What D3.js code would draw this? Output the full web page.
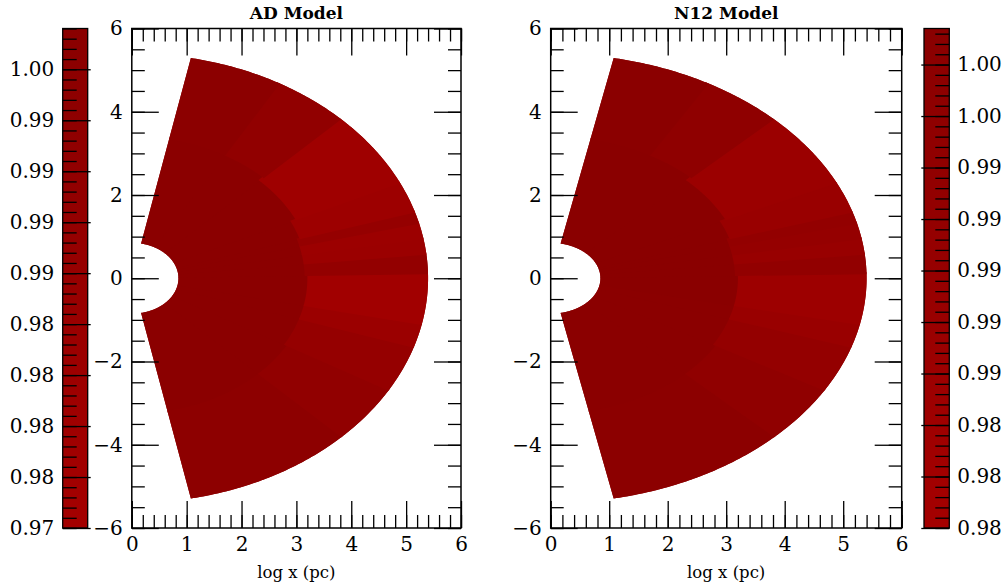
<!DOCTYPE html>
<html>
<head>
<meta charset="utf-8">
<script src="https://cdn.jsdelivr.net/npm/d3@7"></script>
<style>
  body { margin: 0; background: #fff; }
  svg text { font-family: "DejaVu Serif", serif; }
</style>
</head>
<body>
<script>
// data
const xTicks = [0, 1, 2, 3, 4, 5, 6];
const yTicks = [-6, -4, -2, 0, 2, 4, 6];

// wedge grid (polar, degrees / log radius)
const rInner = 0.85;
const rOuter = 5.4;
const thetaEdges = [-78.5, -45, -30, -18, -12, 1, 6, 10, 14, 17, 25, 45, 60, 78.5];
// radius where the outer zone starts, one per angular bin
const rBreak = [3.25, 3.25, 3.2, 3.2, 3.2, 3.15, 3.15, 3.15, 3.15, 3.2, 3.3, 3.4, 3.4];

const adInner = [0.9985, 0.9985, 0.9985, 0.9985, 0.9988, 0.999, 0.999, 0.999, 0.999, 0.999, 0.999, 0.999, 0.999];
const adOuter = [0.9966, 0.9926, 0.9887, 0.9838, 0.9779, 0.9907, 0.9838, 0.9828, 0.9887, 0.9819, 0.9799, 0.9926, 0.9975];

const n12Inner = [0.9990, 0.9990, 0.9990, 0.9990, 0.9991, 0.9992, 0.9992, 0.9992, 0.9992, 0.9992, 0.9992, 0.9992, 0.9992];
const n12Outer = [0.9978, 0.9947, 0.9916, 0.9885, 0.9854, 0.9932, 0.9893, 0.9909, 0.9924, 0.9885, 0.9870, 0.9955, 0.9986];

// colorbars
const adRange = [0.975, 0.9995];
const adCbarTicks = [0.975, 0.9775, 0.98, 0.9825, 0.985, 0.9875, 0.99, 0.9925, 0.995, 0.9975];
const adCbarLabels = ["0.97", "0.98", "0.98", "0.98", "0.98", "0.99", "0.99", "0.99", "0.99", "1.00"];

const n12Range = [0.98, 0.9994];
const n12CbarTicks = [0.98, 0.982, 0.984, 0.986, 0.988, 0.99, 0.992, 0.994, 0.996, 0.998];
const n12CbarLabels = ["0.98", "0.98", "0.98", "0.99", "0.99", "0.99", "0.99", "0.99", "1.00", "1.00"];

const lowColor = "#a40000";
const highColor = "#8a0000";

// layout
const width = 1003;
const height = 587;
const yTop = 28.5;
const yBottom = 528;
const fontSize = 20;

const panels = [
  {
    title: "AD Model", x0: 131.8, x1: 461, inner: adInner, outer: adOuter,
    cbar: { x: 62.7, w: 25, side: "left", range: adRange, ticks: adCbarTicks, labels: adCbarLabels, minorStep: 0.0005 }
  },
  {
    title: "N12 Model", x0: 550.7, x1: 901.7, inner: n12Inner, outer: n12Outer,
    cbar: { x: 924, w: 25.3, side: "right", range: n12Range, ticks: n12CbarTicks, labels: n12CbarLabels, minorStep: 0.0004 }
  }
];

const svg = d3.select("body").append("svg")
  .attr("width", width)
  .attr("height", height);

const styleAxis = (g) => {
  g.select(".domain").remove();
  g.attr("font-family", "DejaVu Serif").attr("font-size", fontSize);
  g.selectAll("line").attr("stroke", "#000").attr("stroke-width", 1.3);
  g.selectAll("text").attr("fill", "#000");
};

panels.forEach((p, pi) => {
  const x = d3.scaleLinear().domain([0, 6]).range([p.x0, p.x1]);
  const y = d3.scaleLinear().domain([-6, 6]).range([yBottom, yTop]);
  const color = d3.scaleLinear().domain(p.cbar.range).range([lowColor, highColor]).clamp(true);

  const line = d3.line().x((d) => x(d[0])).y((d) => y(d[1]));
  const cellPath = (t0, t1, r0, r1) => {
    const n = Math.max(2, Math.ceil(Math.abs(t1 - t0) * 2));
    const pts = [];
    for (let i = 0; i <= n; i++) {
      const t = ((t0 + (t1 - t0) * i / n) * Math.PI) / 180;
      pts.push([r1 * Math.cos(t), r1 * Math.sin(t)]);
    }
    for (let i = n; i >= 0; i--) {
      const t = ((t0 + (t1 - t0) * i / n) * Math.PI) / 180;
      pts.push([r0 * Math.cos(t), r0 * Math.sin(t)]);
    }
    return line(pts) + "Z";
  };

  // cells overlap slightly into the next one (drawn later) so no seams show
  const last = thetaEdges.length - 2;
  const innerCells = [];
  const outerCells = [];
  thetaEdges.slice(0, -1).forEach((t0, i) => {
    const t1 = thetaEdges[i + 1] + (i < last ? 0.6 : 0);
    innerCells.push({ t0, t1, r0: rInner, r1: rBreak[i] + 0.05, v: p.inner[i] });
    outerCells.push({ t0, t1, r0: rBreak[i], r1: rOuter, v: p.outer[i] });
  });

  const wedge = svg.append("g");
  // base layer under the cells
  wedge.append("path")
    .attr("d", cellPath(thetaEdges[0], thetaEdges[thetaEdges.length - 1], rInner, rOuter))
    .attr("fill", color(d3.median(p.inner)));
  wedge.selectAll("path.inner")
    .data(innerCells)
    .enter()
    .append("path")
    .attr("class", "inner")
    .attr("d", (d) => cellPath(d.t0, d.t1, d.r0, d.r1))
    .attr("fill", (d) => color(d.v));
  wedge.selectAll("path.outer")
    .data(outerCells)
    .enter()
    .append("path")
    .attr("class", "outer")
    .attr("d", (d) => cellPath(d.t0, d.t1, d.r0, d.r1))
    .attr("fill", (d) => color(d.v));

  // ticks, all four sides, inward
  const minorX = d3.range(0, 6.001, 0.2);
  const minorY = d3.range(-6, 6.001, 0.5);
  const intFmt = d3.format("d");

  svg.append("g").attr("transform", `translate(0,${yBottom})`)
    .call(d3.axisBottom(x).tickValues(minorX).tickSize(-13).tickFormat("")).call(styleAxis);
  svg.append("g").attr("transform", `translate(0,${yBottom})`)
    .call(d3.axisBottom(x).tickValues(xTicks).tickSizeInner(-27).tickSizeOuter(0).tickPadding(8.5).tickFormat(intFmt)).call(styleAxis);
  svg.append("g").attr("transform", `translate(0,${yTop})`)
    .call(d3.axisTop(x).tickValues(minorX).tickSize(-13).tickFormat("")).call(styleAxis);
  svg.append("g").attr("transform", `translate(0,${yTop})`)
    .call(d3.axisTop(x).tickValues(xTicks).tickSize(-27).tickFormat("")).call(styleAxis);

  svg.append("g").attr("transform", `translate(${p.x0},0)`)
    .call(d3.axisLeft(y).tickValues(minorY).tickSize(-13).tickFormat("")).call(styleAxis);
  svg.append("g").attr("transform", `translate(${p.x0},0)`)
    .call(d3.axisLeft(y).tickValues(yTicks).tickSizeInner(-27).tickSizeOuter(0).tickPadding(9).tickFormat(intFmt)).call(styleAxis);
  svg.append("g").attr("transform", `translate(${p.x1},0)`)
    .call(d3.axisRight(y).tickValues(minorY).tickSize(-13).tickFormat("")).call(styleAxis);
  svg.append("g").attr("transform", `translate(${p.x1},0)`)
    .call(d3.axisRight(y).tickValues(yTicks).tickSize(-27).tickFormat("")).call(styleAxis);

  // frame
  svg.append("rect")
    .attr("x", p.x0).attr("y", yTop)
    .attr("width", p.x1 - p.x0).attr("height", yBottom - yTop)
    .attr("fill", "none").attr("stroke", "#000").attr("stroke-width", 1.5);

  // title and x label
  svg.append("text")
    .attr("x", (p.x0 + p.x1) / 2).attr("y", 19)
    .attr("text-anchor", "middle")
    .attr("font-weight", "bold").attr("font-size", 17)
    .text(p.title);
  svg.append("text")
    .attr("x", (p.x0 + p.x1) / 2).attr("y", 578)
    .attr("text-anchor", "middle")
    .attr("font-size", 16.5)
    .text("log x (pc)");

  // colorbar
  const c = p.cbar;
  const cy = d3.scaleLinear().domain(c.range).range([yBottom, yTop]);
  const gradId = "grad" + pi;
  const grad = svg.append("defs").append("linearGradient")
    .attr("id", gradId)
    .attr("x1", 0).attr("y1", 1).attr("x2", 0).attr("y2", 0);
  grad.selectAll("stop")
    .data(c.range)
    .enter()
    .append("stop")
    .attr("offset", (d, i) => i)
    .attr("stop-color", (d) => color(d));

  svg.append("rect")
    .attr("x", c.x).attr("y", yTop)
    .attr("width", c.w).attr("height", yBottom - yTop)
    .attr("fill", `url(#${gradId})`);

  const minorC = d3.range(c.range[0], c.range[1] + 1e-9, c.minorStep);
  if (c.side === "left") {
    svg.append("g").attr("transform", `translate(${c.x},0)`)
      .call(d3.axisLeft(cy).tickValues(minorC).tickSize(-14).tickFormat("")).call(styleAxis);
    svg.append("g").attr("transform", `translate(${c.x},0)`)
      .call(d3.axisLeft(cy).tickValues(c.ticks).tickSizeInner(-28).tickSizeOuter(0).tickPadding(8.5)
        .tickFormat((d, i) => c.labels[i])).call(styleAxis);
  } else {
    svg.append("g").attr("transform", `translate(${c.x + c.w},0)`)
      .call(d3.axisRight(cy).tickValues(minorC).tickSize(-14).tickFormat("")).call(styleAxis);
    svg.append("g").attr("transform", `translate(${c.x + c.w},0)`)
      .call(d3.axisRight(cy).tickValues(c.ticks).tickSizeInner(-28).tickSizeOuter(0).tickPadding(8)
        .tickFormat((d, i) => c.labels[i])).call(styleAxis);
  }

  svg.append("rect")
    .attr("x", c.x).attr("y", yTop)
    .attr("width", c.w).attr("height", yBottom - yTop)
    .attr("fill", "none").attr("stroke", "#000").attr("stroke-width", 1.3);
});
</script>
</body>
</html>
